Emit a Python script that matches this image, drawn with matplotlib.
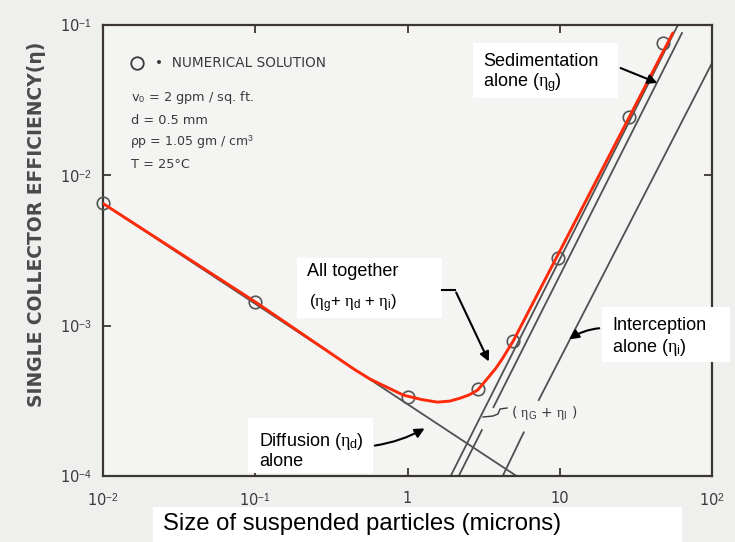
import matplotlib
matplotlib.use("Agg")
import matplotlib.pyplot as plt
from matplotlib.lines import Line2D
from matplotlib.patches import Rectangle, FancyArrowPatch

plt.rcParams['mathtext.fontset'] = 'custom'
plt.rcParams['mathtext.rm'] = 'Liberation Sans'
plt.rcParams['mathtext.it'] = 'Liberation Serif'
plt.rcParams['mathtext.bf'] = 'Liberation Sans:bold'

# ---------------- data ----------------
# numerical solution points
circ_d = [0.01, 0.1, 1.0, 2.9, 4.9, 9.8, 28.4, 48.0]
circ_eta = [6.5e-3, 1.44e-3, 3.35e-4, 3.8e-4, 7.9e-4, 2.8e-3, 2.44e-2, 7.6e-2]

# all together (red curve)
total_d = [0.01, 0.1, 0.45, 0.571, 0.75, 0.94, 1.25, 1.57, 1.9, 2.23, 2.55, 2.89, 3.41, 3.8,
           4.22, 4.98, 55.3]
total_eta = [6.5e-3, 1.44e-3, 5.1e-4, 4.4e-4, 3.85e-4, 3.45e-4, 3.22e-4, 3.10e-4, 3.15e-4,
             3.30e-4, 3.47e-4, 3.73e-4, 4.55e-4, 5.2e-4, 6.08e-4, 8.0e-4, 8.85e-2]

# diffusion alone
diff_d = [0.01, 5.2]
diff_eta = [6.5e-3, 1.0e-4]

# eta_G + eta_I
gi_d = [1.92, 59.7]
gi_eta = [1.0e-4, 0.1]

# sedimentation alone (two pieces, gap at label)
sed_d1 = [2.17, 3.08]
sed_eta1 = [1.0e-4, 2.02e-4]
sed_d2 = [3.67, 63.5]
sed_eta2 = [2.87e-4, 8.85e-2]

# interception alone (two pieces, gap at label)
int_d1 = [4.22, 5.8]
int_eta1 = [1.0e-4, 1.95e-4]
int_d2 = [7.28, 100.0]
int_eta2 = [3.2e-4, 5.58e-2]

xticks = [0.01, 0.1, 1, 10, 100]
xticklabels = ['10$^{-2}$', '10$^{-1}$', '1', '10', '10$^{2}$']
yticks = [1e-4, 1e-3, 1e-2, 1e-1]
yticklabels = ['10$^{-4}$', '10$^{-3}$', '10$^{-2}$', '10$^{-1}$']

# ---------------- figure ----------------
W, H = 735, 542
fig = plt.figure(figsize=(W / 100, H / 100), dpi=100)
fig.patch.set_facecolor('#efefee')


def F(x, y):
    return (x / W, 1 - y / H)


ax = fig.add_axes([103 / W, 1 - 476 / H, (712 - 103) / W, (476 - 25) / H])
ax.set_facecolor('#f4f4f3')
ax.set_xscale('log')
ax.set_yscale('log')
ax.set_xlim(0.01, 100)
ax.set_ylim(1e-4, 0.1)
for s in ax.spines.values():
    s.set_color('#3b3631')
    s.set_linewidth(1.6)

ax.set_xticks(xticks)
ax.set_xticklabels(xticklabels)
ax.set_yticks(yticks)
ax.set_yticklabels(yticklabels)
ax.minorticks_off()
ax.tick_params(which='major', direction='in', length=6, width=1.3, color='#3b3631',
               top=True, right=True, labelsize=10.5, labelcolor='#3a3a3a')
ax.tick_params(axis='x', pad=11)
ax.tick_params(axis='y', pad=8)

lc = '#505050'
ax.plot(diff_d, diff_eta, color=lc, lw=1.3)
ax.plot(gi_d, gi_eta, color=lc, lw=1.3)
ax.plot(sed_d1, sed_eta1, color=lc, lw=1.3)
ax.plot(sed_d2, sed_eta2, color=lc, lw=1.3)
ax.plot(int_d1, int_eta1, color=lc, lw=1.3)
ax.plot(int_d2, int_eta2, color=lc, lw=1.3)
ax.plot(circ_d, circ_eta, linestyle='none', marker='o', ms=9, mfc='none', mec='#555555',
        mew=1.2, clip_on=False, zorder=4)
ax.plot(total_d, total_eta, color='#ff2a0a', lw=2.1, zorder=5, solid_capstyle='round',
        solid_joinstyle='round')

# original printed annotations
tc = '#3a3a3a'
fig.add_artist(Line2D([F(137, 63)[0]], [F(137, 63)[1]], marker='o', ms=9, mfc='none',
                      mec=tc, mew=1.3, transform=fig.transFigure))
fig.text(*F(155, 63), '\u2022  NUMERICAL SOLUTION', fontsize=9.8, color=tc, va='center')
fig.text(*F(131, 97), 'v$_0$ = 2 gpm / sq. ft.', fontsize=9.3, color=tc, va='center')
fig.text(*F(131, 120), 'd = 0.5 mm', fontsize=9.3, color=tc, va='center')
fig.text(*F(130, 142), '\u03c1p = 1.05 gm / cm$^3$', fontsize=9.0, color=tc, va='center')
fig.text(*F(131, 164), 'T = 25\u00b0C', fontsize=9.3, color=tc, va='center')
fig.text(*F(511, 413), r'( $\eta_{\rm G}$ + $\eta_{\rm I}$ )', fontsize=10, color=tc, va='center')
fig.add_artist(Line2D([483 / W, 493 / W, 498 / W, 500 / W, 507 / W],
                      [1 - 417 / H, 1 - 416 / H, 1 - 414 / H, 1 - 409 / H, 1 - 408 / H],
                      color=tc, lw=1.0, transform=fig.transFigure))

fig.text(*F(37, 224), 'SINGLE COLLECTOR EFFICIENCY(\u03b7)', rotation=90, fontsize=13.5,
         fontweight='bold', color='#4a4a4a', ha='center', va='center')


# ---------------- overlay boxes ----------------
def box(x0, y0, x1, y1):
    fig.add_artist(Rectangle(F(x0, y1), (x1 - x0) / W, (y1 - y0) / H, transform=fig.transFigure,
                             facecolor='white', edgecolor='none', zorder=10))


box(473, 43, 618, 98)
fig.text(*F(483, 62), 'Sedimentation', fontsize=13, family='Liberation Sans', va='center', zorder=11)
fig.text(*F(483, 83), r'alone ($\eta_{\rm g}$)', fontsize=13, family='Liberation Sans', va='center', zorder=11)

box(297, 258, 442, 318)
fig.text(*F(307, 271), 'All together', fontsize=13, family='Liberation Sans', va='center', zorder=11)
fig.text(*F(309, 304), r'($\eta_{\rm g}$+ $\eta_{\rm d}$ + $\eta_{\rm i}$)', fontsize=12,
         family='Liberation Sans', va='center', zorder=11)

box(602, 307, 730, 362)
fig.text(*F(612, 325), 'Interception', fontsize=13, family='Liberation Sans', va='center', zorder=11)
fig.text(*F(612, 347), r'alone ($\eta_{\rm i}$)', fontsize=13, family='Liberation Sans', va='center', zorder=11)

box(248, 418, 373, 473)
fig.text(*F(259, 441), r'Diffusion ($\eta_{\rm d}$)', fontsize=13, family='Liberation Sans', va='center', zorder=11)
fig.text(*F(259, 462), 'alone', fontsize=13, family='Liberation Sans', va='center', zorder=11)

box(153, 507, 682, 542)
fig.text(*F(163, 524), 'Size of suspended particles (microns)', fontsize=17.2,
         family='Liberation Sans', va='center', zorder=11)

# arrows
ak = dict(arrowstyle='-|>', color='black', lw=1.5, mutation_scale=14)


def arrow(p0, p1, rad=0.0):
    fig.add_artist(FancyArrowPatch(F(*p0), F(*p1), transform=fig.transFigure,
                                   connectionstyle=f'arc3,rad={rad}', zorder=12, **ak))


fig.add_artist(Line2D([442 / W, 455 / W], [1 - 290 / H, 1 - 290 / H], color='black', lw=1.5,
                      transform=fig.transFigure, zorder=12))
arrow((455, 290), (490, 364))
arrow((618, 67), (660, 84))
arrow((602, 328), (567, 341), rad=0.15)
arrow((372, 446), (427, 427), rad=0.1)

fig.savefig('out.png', dpi=100, facecolor=fig.get_facecolor())
